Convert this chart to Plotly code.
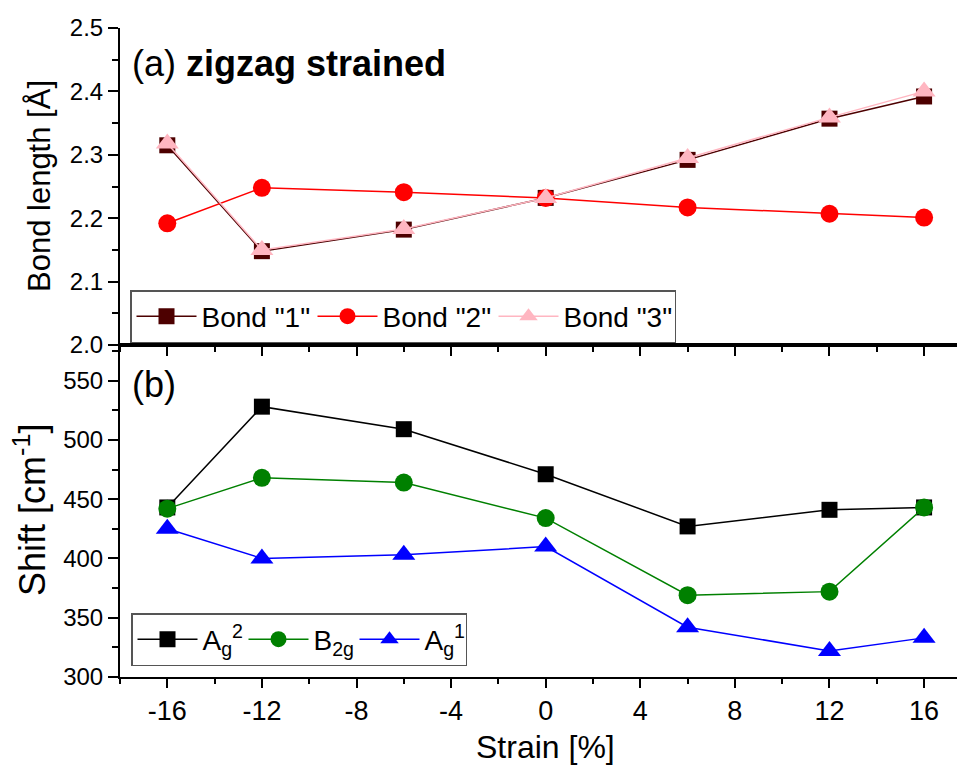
import plotly.graph_objects as go

# --------------------------
# DATA
# --------------------------
strain = [-16, -12, -6, 0, 6, 12, 16]

bond1 = [2.315, 2.148, 2.182, 2.232, 2.292, 2.357, 2.392]
bond2 = [2.192, 2.248, 2.241, 2.232, 2.217, 2.207, 2.201]
bond3 = [2.318, 2.150, 2.183, 2.232, 2.295, 2.359, 2.400]

ag2 = [443, 528, 509, 471, 427, 441, 443]
b2g = [442, 468, 464, 434, 369, 372, 443]
ag1 = [425, 400, 403, 410, 342, 322, 333]

x_ticks = [-16, -12, -8, -4, 0, 4, 8, 12, 16]
x_labels = ["-16", "-12", "-8", "-4", "0", "4", "8", "12", "16"]

FONT = "Liberation Sans, Arial, sans-serif"
XR = [-18, 17.73]

# the page body adds an 8px offset, so the figure is made 8px smaller
OFF = 8

fig = go.Figure()

# --------------------------
# (a) bond lengths
# --------------------------
top_series = [
    ('Bond "1"', bond1, "#4d0000", "square", 16),
    ('Bond "2"', bond2, "#ff0000", "circle", 18),
    ('Bond "3"', bond3, "#ffb6c1", "triangle-up", 20),
]
for name, vals, col, sym, sz in top_series:
    fig.add_trace(go.Scatter(
        x=strain, y=vals, name=name, mode="lines+markers",
        line=dict(color=col, width=1.5),
        marker=dict(color=col, symbol=sym, size=sz),
        xaxis="x", yaxis="y", legend="legend",
    ))

# --------------------------
# (b) Raman shifts
# --------------------------
bot_series = [
    ("A<sub>g</sub><sup>2</sup>", ag2, "#000000", "square", 16),
    ("B<sub>2g</sub>", b2g, "#008000", "circle", 18),
    ("A<sub>g</sub><sup>1</sup>", ag1, "#0000ff", "triangle-up", 20),
]
for name, vals, col, sym, sz in bot_series:
    fig.add_trace(go.Scatter(
        x=strain, y=vals, name=name, mode="lines+markers",
        line=dict(color=col, width=1.5),
        marker=dict(color=col, symbol=sym, size=sz),
        xaxis="x2", yaxis="y2", legend="legend2",
    ))

# --------------------------
# AXES
# --------------------------
split = 332 / 649

def x_axis(**kw):
    d = dict(
        range=XR, tickvals=x_ticks, ticktext=x_labels, showgrid=False, zeroline=False,
        showline=True, linecolor="black", linewidth=2,
        ticks="outside", ticklen=9, tickwidth=2, tickcolor="black",
        tickfont=dict(size=27, color="black", family=FONT),
        minor=dict(dtick=2, tick0=0, ticks="outside", ticklen=5, tickwidth=2, tickcolor="black"),
    )
    d.update(kw)
    return d

def y_axis(**kw):
    d = dict(
        showgrid=False, zeroline=False,
        showline=True, linecolor="black", linewidth=2,
        ticks="outside", ticklen=10, tickwidth=2, tickcolor="black",
        tickfont=dict(size=24, color="black", family=FONT),
    )
    d.update(kw)
    return d

fig.update_layout(
    xaxis=x_axis(anchor="y", showticklabels=False),
    xaxis2=x_axis(anchor="y2", mirror=True),
    xaxis3=x_axis(overlaying="x", side="top", anchor="y", showticklabels=False,
                  ticks="inside",
                  minor=dict(dtick=2, tick0=0, ticks="inside", ticklen=5, tickwidth=2, tickcolor="black")),
    yaxis=y_axis(domain=[split, 1], range=[2.0, 2.5], dtick=0.1, tickformat=".1f",
                 minor=dict(dtick=0.05, ticks="outside", ticklen=6, tickwidth=2, tickcolor="black")),
    yaxis2=y_axis(domain=[0, split], range=[300, 580], dtick=50,
                  minor=dict(dtick=25, ticks="outside", ticklen=6, tickwidth=2, tickcolor="black")),
    yaxis3=y_axis(range=[2.0, 2.5], dtick=0.1, overlaying="y", side="right", anchor="x",
                  showticklabels=False, showline=False, ticks="inside", ticklen=4),
    yaxis4=y_axis(range=[300, 580], dtick=50, overlaying="y2", side="right", anchor="x2",
                  showticklabels=False, showline=False, ticks="inside", ticklen=4),
)

# --------------------------
# LEGENDS
# --------------------------
def px_x(v):
    return (v - 120) / 845

def px_y(v):
    return (677 - v) / 649

leg_common = dict(
    orientation="h", xanchor="left", yanchor="top",
    bgcolor="white", bordercolor="#555555", borderwidth=1.5,
    font=dict(size=28, color="black", family=FONT),
    itemsizing="trace", tracegroupgap=0, itemwidth=60,
)
fig.update_layout(
    legend=dict(**leg_common, x=px_x(130), y=px_y(290), entrywidth=106),
    legend2=dict(**leg_common, x=px_x(131), y=px_y(613), entrywidth=36),
)

# --------------------------
# TEXT
# --------------------------
annots = [
    dict(text="(a) <b>zigzag strained</b>", x=px_x(130), y=px_y(64), size=36,
         xanchor="left", angle=0),
    dict(text="(b)", x=px_x(130), y=px_y(384), size=36, xanchor="left", angle=0),
    dict(text="Bond length [Å]", x=px_x(40), y=px_y(186), size=31, xanchor="center", angle=-90),
    dict(text="Shift [cm<sup>-1</sup>]", x=px_x(30), y=px_y(510), size=36, xanchor="center", angle=-90),
    dict(text="Strain [%]", x=px_x(545), y=px_y(747), size=32, xanchor="center", angle=0),
]
for a in annots:
    fig.add_annotation(
        text=a["text"], x=a["x"], y=a["y"], xref="paper", yref="paper",
        xanchor=a["xanchor"], yanchor="middle", textangle=a["angle"],
        showarrow=False, font=dict(size=a["size"], color="black", family=FONT),
    )

# --------------------------
# FINAL LAYOUT
# --------------------------
H = 765 - OFF
fig.update_layout(
    width=965 - OFF, height=H,
    margin=dict(l=120 - OFF, r=0, t=28 - OFF, b=H - (677 - OFF)),
    paper_bgcolor="white",
    plot_bgcolor="white",
    font=dict(family=FONT, size=20, color="black"),
    showlegend=True,
)

fig.write_html("out.html")
